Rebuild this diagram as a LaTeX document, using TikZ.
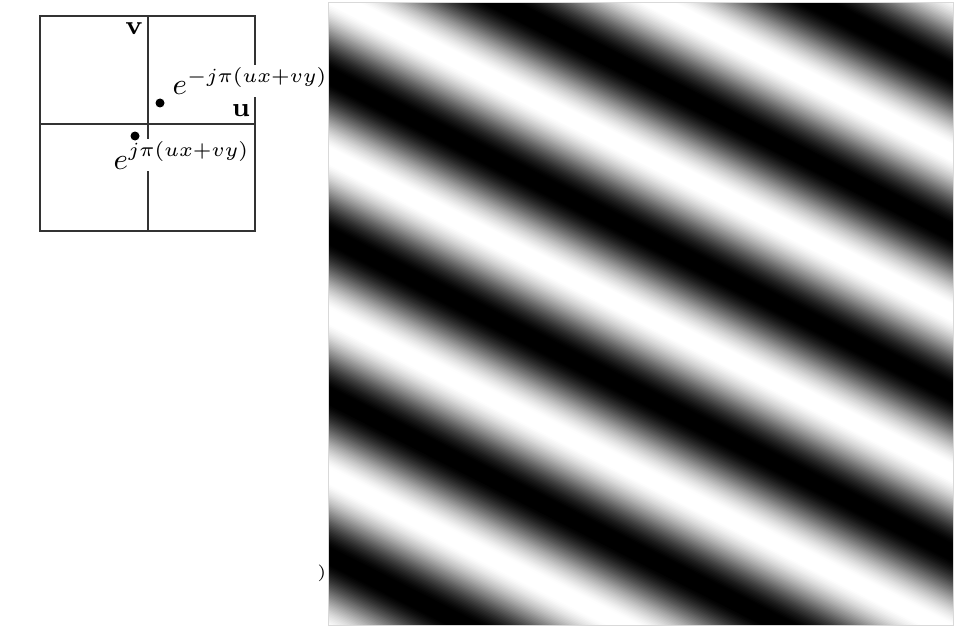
\documentclass[tikz,border=0pt]{standalone}
\usepackage{amsmath, amssymb}
\usepackage{tikz}
\begin{document}
\begin{tikzpicture}[x=0.3pt, y=-0.3pt]
      \useasboundingbox (0,0) rectangle (962,634);

      % Frequency plane with its two axes
      \draw[black!80, line width=0.45pt] (40,16) rectangle (255,231);
      \draw[black!80, line width=0.45pt] (148,16) -- (148,231);
      \draw[black!80, line width=0.45pt] (40,124) -- (255,124);
      \node[font=\footnotesize\bfseries, inner sep=0] (vlab) at (134,29) {v};
      \node[font=\footnotesize\bfseries, inner sep=0] (ulab) at (241,111) {u};

      % The two conjugate frequency points
      \coordinate (pneg) at (160,103);
      \coordinate (ppos) at (135,136);
      \node[fill=white, inner sep=0.6pt, anchor=base west, font=\fontsize{9pt}{11pt}\selectfont] (negexp) at (170,95) {$e^{-j\pi(ux+vy)}$};
      \node[fill=white, inner sep=0.6pt, anchor=base west, font=\fontsize{9pt}{11pt}\selectfont] (posexp) at (111,169) {$e^{j\pi(ux+vy)}$};
      \fill (pneg) circle (1.35pt);
      \fill (ppos) circle (1.35pt);

      % Stray mark left of the grating
      \node[font=\tiny, inner sep=0] (mark) at (322,573) {)};

      % Sinusoidal grating, thin strips across the wave fronts
      \begin{scope}
        \clip (328,3) rectangle (953,625);
        \begin{scope}[shift={(501,3)}, rotate=63.07]
          \foreach \s in {-660,-658.5,...,230} {
            \pgfmathsetmacro\pc{max(0,min(100,50+53*cos((\s+0.75)*2.52366)))}
            \fill[black!\pc] (\s,-1000) rectangle (\s+2.3,1000);
          }
        \end{scope}
      \end{scope}
      \draw[black!15, line width=0.3pt] (328,3) rectangle (953,625);
    \end{tikzpicture}
\end{document}
